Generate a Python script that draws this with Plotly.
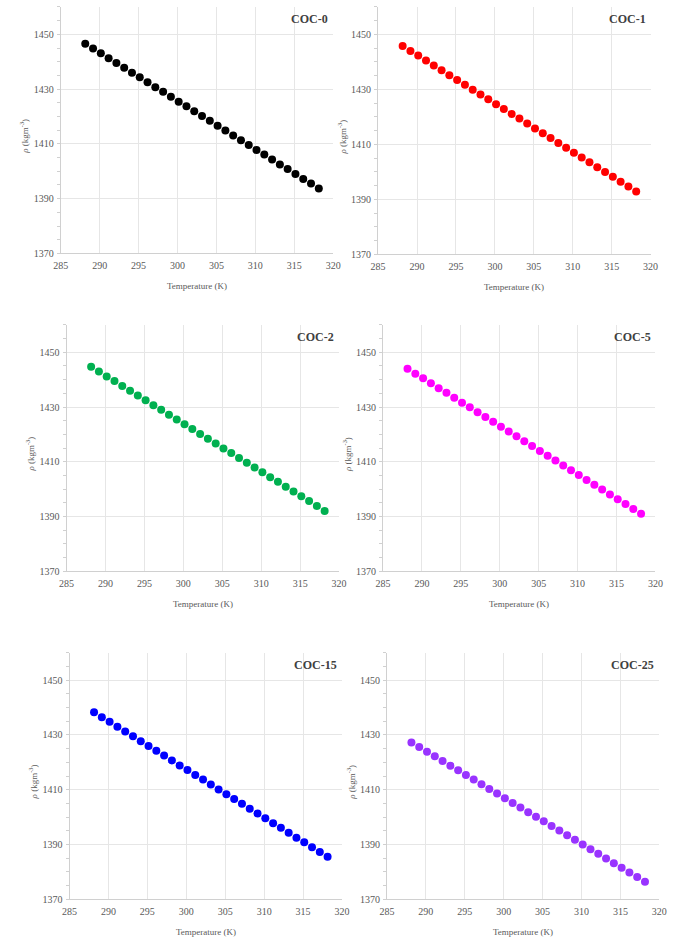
import plotly.graph_objects as go

temperature = [288.15, 289.15, 290.15, 291.15, 292.15, 293.15, 294.15, 295.15, 296.15, 297.15,
               298.15, 299.15, 300.15, 301.15, 302.15, 303.15, 304.15, 305.15, 306.15, 307.15,
               308.15, 309.15, 310.15, 311.15, 312.15, 313.15, 314.15, 315.15, 316.15, 317.15, 318.15]

coc0 = [1446.6, 1444.8, 1443.1, 1441.3, 1439.5, 1437.8, 1436.0, 1434.3, 1432.5, 1430.7,
        1429.0, 1427.2, 1425.4, 1423.7, 1421.9, 1420.2, 1418.4, 1416.6, 1414.9, 1413.1,
        1411.3, 1409.6, 1407.8, 1406.1, 1404.3, 1402.5, 1400.8, 1399.0, 1397.2, 1395.5, 1393.7]
coc1 = [1445.8, 1444.0, 1442.3, 1440.5, 1438.7, 1437.0, 1435.2, 1433.4, 1431.7, 1429.9,
        1428.2, 1426.4, 1424.6, 1422.9, 1421.1, 1419.4, 1417.6, 1415.8, 1414.1, 1412.3,
        1410.5, 1408.8, 1407.0, 1405.2, 1403.5, 1401.7, 1400.0, 1398.2, 1396.4, 1394.7, 1392.9]
coc2 = [1444.7, 1443.0, 1441.2, 1439.5, 1437.7, 1436.0, 1434.2, 1432.5, 1430.7, 1429.0,
        1427.2, 1425.5, 1423.7, 1422.0, 1420.2, 1418.4, 1416.7, 1414.9, 1413.2, 1411.4,
        1409.7, 1407.9, 1406.2, 1404.4, 1402.7, 1400.9, 1399.2, 1397.4, 1395.7, 1393.9, 1392.0]
coc5 = [1444.0, 1442.2, 1440.5, 1438.7, 1436.9, 1435.2, 1433.4, 1431.6, 1429.9, 1428.1,
        1426.4, 1424.6, 1422.8, 1421.1, 1419.3, 1417.5, 1415.8, 1414.0, 1412.2, 1410.5,
        1408.7, 1406.9, 1405.2, 1403.4, 1401.6, 1399.9, 1398.1, 1396.3, 1394.6, 1392.8, 1391.0]
coc15 = [1438.3, 1436.5, 1434.8, 1433.0, 1431.3, 1429.5, 1427.7, 1426.0, 1424.2, 1422.5,
         1420.7, 1418.9, 1417.2, 1415.4, 1413.7, 1411.9, 1410.1, 1408.4, 1406.6, 1404.9,
         1403.1, 1401.3, 1399.6, 1397.8, 1396.1, 1394.3, 1392.5, 1390.8, 1389.0, 1387.3, 1385.5]
coc25 = [1427.3, 1425.6, 1423.9, 1422.2, 1420.5, 1418.8, 1417.1, 1415.4, 1413.7, 1412.0,
         1410.3, 1408.6, 1406.9, 1405.2, 1403.5, 1401.8, 1400.1, 1398.5, 1396.8, 1395.1,
         1393.4, 1391.7, 1390.0, 1388.3, 1386.6, 1384.9, 1383.2, 1381.5, 1379.8, 1378.1, 1376.4]

series = [coc0, coc1, coc2, coc5, coc15, coc25]
names = ["COC-0", "COC-1", "COC-2", "COC-5", "COC-15", "COC-25"]
colors = ["#000000", "#ff0000", "#00b050", "#ff00ff", "#0000ff", "#9933ff"]

x_ticks = [285, 290, 295, 300, 305, 310, 315, 320]
y_ticks = [1370, 1390, 1410, 1430, 1450]
x_title = "Temperature (K)"
y_title = "<i>ρ</i> (kgm<sup>-3</sup>)"

W, H = 683, 947
# panel pixel boxes: (left, right, top, bottom)
boxes = [(54, 333, 7, 255), (379, 658, 7, 256),
         (60, 339, 327, 575), (384, 663, 327, 575),
         (63, 342, 657, 905), (388, 667, 657, 905)]

FONT = "Liberation Serif"
fig = go.Figure()
layout = dict(width=W, height=H, margin=dict(l=0, r=0, t=0, b=0, pad=0),
              paper_bgcolor="white", plot_bgcolor="white", showlegend=False,
              hovermode=False,
              font=dict(family=FONT, color="#595959"))
annotations = []
for i, (ys, name, col, box) in enumerate(zip(series, names, colors, boxes)):
    n = i + 1
    xa = "xaxis" if n == 1 else f"xaxis{n}"
    ya = "yaxis" if n == 1 else f"yaxis{n}"
    xr = "x" if n == 1 else f"x{n}"
    yr = "y" if n == 1 else f"y{n}"
    l, r, t, b = box
    fig.add_trace(go.Scatter(x=temperature, y=ys, mode="markers", name=name,
                             marker=dict(color=col, size=8, line=dict(width=0)),
                             xaxis=xr, yaxis=yr))
    layout[xa] = dict(domain=[l / W, r / W], anchor=yr, range=[285, 320],
                      tickvals=x_ticks, showgrid=True, gridcolor="#e6e6e6", gridwidth=1,
                      showline=True, linecolor="#d0d0d0", linewidth=1, zeroline=False,
                      ticks="", tickfont=dict(size=10, color="#595959", family=FONT),
                      ticklabelstandoff=3, fixedrange=True)
    layout[ya] = dict(domain=[1 - b / H, 1 - t / H], anchor=xr, range=[1370, 1460],
                      tickvals=y_ticks, showgrid=True, gridcolor="#e6e6e6", gridwidth=1,
                      showline=True, linecolor="#d0d0d0", linewidth=1, zeroline=False,
                      ticks="", ticklen=0,
                      minor=dict(dtick=5, ticks="outside", ticklen=3, tickcolor="#d0d0d0",
                                 showgrid=False),
                      tickfont=dict(size=10, color="#595959", family=FONT),
                      ticklabelstandoff=4, fixedrange=True)
    cx = (l + r) / 2
    cy = (t + b) / 2
    annotations.append(dict(text=f"<b>{name}</b>", xref="paper", yref="paper",
                            x=(r - 3) / W, y=1 - (t + 12) / H, xanchor="right", yanchor="middle",
                            showarrow=False, font=dict(size=12, color="#404040", family=FONT)))
    annotations.append(dict(text=x_title, xref="paper", yref="paper",
                            x=cx / W, y=1 - (b + 33) / H, xanchor="center", yanchor="middle",
                            showarrow=False, font=dict(size=9, color="#595959", family=FONT)))
    annotations.append(dict(text=y_title, xref="paper", yref="paper",
                            x=(l - 37) / W, y=1 - (cy + 6) / H, xanchor="center", yanchor="middle",
                            textangle=-90, showarrow=False,
                            font=dict(size=9, color="#595959", family=FONT)))
layout["annotations"] = annotations
fig.update_layout(**layout)
fig.write_html("out.html", config={"displayModeBar": False},
               post_script="document.body.style.margin='0px';document.body.style.padding='0px';")
